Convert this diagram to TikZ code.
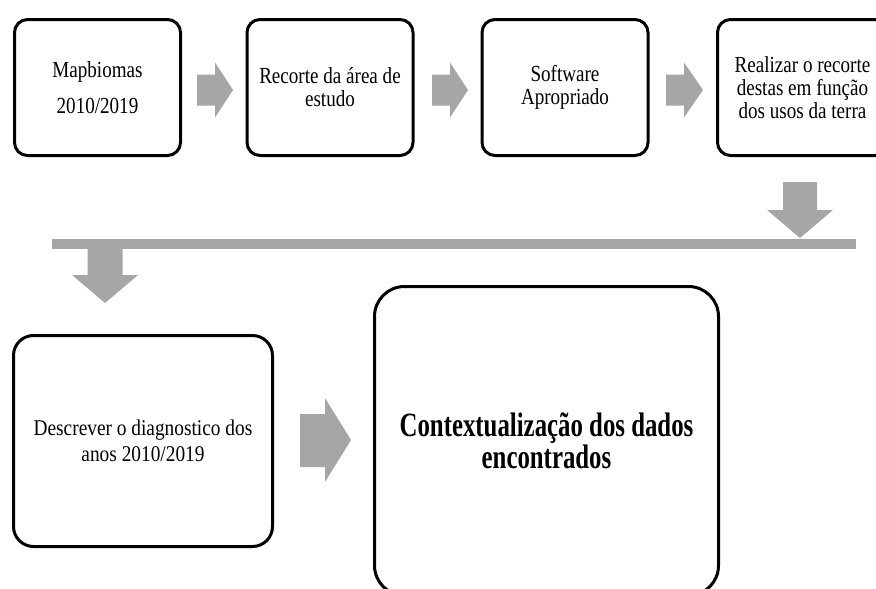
\documentclass[tikz,border=0pt]{standalone}
\usepackage{fontspec}
\setmainfont{Liberation Serif}
\newfontfamily\topfont[FakeStretch=0.83]{Liberation Serif}
\newfontfamily\lowfont[FakeStretch=0.86]{Liberation Serif}
\newfontfamily\bigfont[FakeStretch=0.73]{Liberation Serif}
\definecolor{arrowgray}{HTML}{A6A6A6}
\begin{document}
\begin{tikzpicture}[x=1pt,y=-1pt,
  box/.style={draw=black, line width=3pt, rounded corners=13pt, fill=white, align=center, inner sep=0pt},
  topbox/.style={box, minimum width=166pt, minimum height=136pt, font=\topfont\fontsize{23}{23}\selectfont},
  blockarrow/.style={fill=arrowgray, draw=none}]
\useasboundingbox (0,0) rectangle (876,589);
\clip (0,0) rectangle (876,589);

% top row
\node[topbox] (b1) at (97.5,87.5) {Mapbiomas\\[13pt]2010/2019};
\node[topbox] (b2) at (330,87.5) {Recorte da área de\\estudo};
\node[topbox] (b3) at (565,87.5) {Software\\Apropriado};
\node[topbox, minimum width=170pt] (b4) at (802.5,87.5) {Realizar o recorte\\destas em função\\dos usos da terra};

% bottom row
\node[box, rounded corners=20pt, minimum width=259pt, minimum height=211pt,
      font=\lowfont\fontsize{22.5}{26}\selectfont] (b5) at (143,441)
      {Descrever o diagnostico dos\\anos 2010/2019};
\node[box, rounded corners=30pt, minimum width=344pt, minimum height=309pt,
      font=\bigfont\bfseries\fontsize{34}{29}\selectfont] (b6) at (546.5,441)
      {Contextualização dos dados\\encontrados};

% right block arrows
\fill[blockarrow] (197,74.5) -- (215,74.5) -- (215,62.5) -- (233,90) -- (215,117.5) -- (215,105.5) -- (197,105.5) -- cycle;
\fill[blockarrow] (432,74.5) -- (450,74.5) -- (450,62.5) -- (468,90) -- (450,117.5) -- (450,105.5) -- (432,105.5) -- cycle;
\fill[blockarrow] (666,74.5) -- (684,74.5) -- (684,62.5) -- (703,90) -- (684,117.5) -- (684,105.5) -- (666,105.5) -- cycle;
\fill[blockarrow] (300,414) -- (325,414) -- (325,398) -- (351,440) -- (325,482) -- (325,467) -- (300,467) -- cycle;

% down block arrows and bar
\fill[blockarrow] (783,182) -- (817,182) -- (817,210) -- (833,210) -- (800,238) -- (767,210) -- (783,210) -- cycle;
\fill[blockarrow] (52,239) rectangle (856,249);
\fill[blockarrow] (87.5,248) -- (122.5,248) -- (122.5,275) -- (138,275) -- (105,303) -- (72,275) -- (87.5,275) -- cycle;
\end{tikzpicture}
\end{document}
